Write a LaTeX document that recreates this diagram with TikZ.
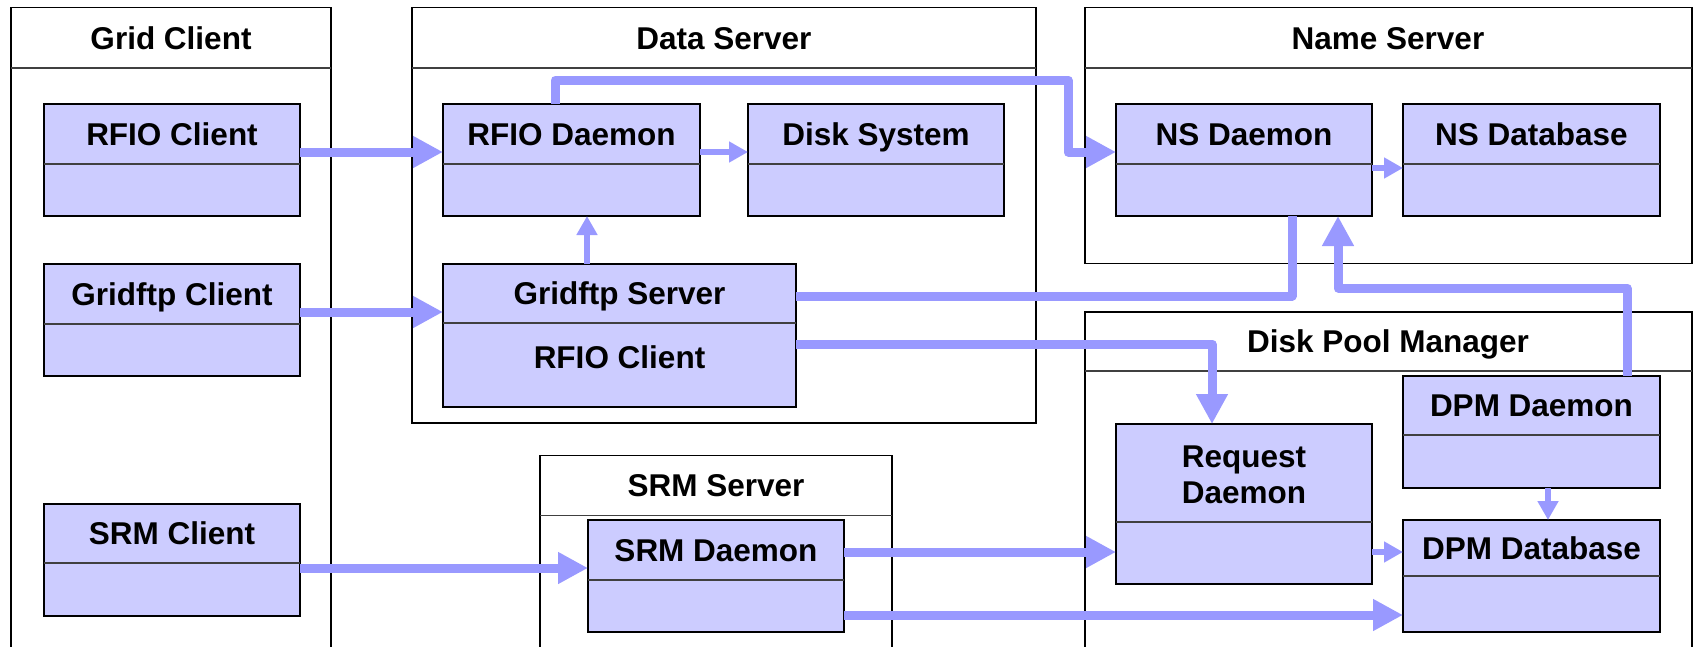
\documentclass[tikz,border=0pt]{standalone}
\usepackage{fontspec}
\setmainfont{Liberation Sans}
\usetikzlibrary{arrows.meta}

\definecolor{boxfill}{RGB}{204,204,255}
\definecolor{flowc}{RGB}{153,153,255}

\begin{document}
\begin{tikzpicture}[x=1pt, y=-1pt,
    group/.style={draw=black, line width=1.6pt},
    sepline/.style={draw=black!75, line width=1.5pt},
    comp/.style={draw=black, line width=2pt, fill=boxfill, anchor=north west, inner sep=0pt, outer sep=0pt},
    boxtext/.style={font=\fontsize{31.5}{36}\selectfont\bfseries, inner sep=0pt},
    boxlabel/.style={boxtext, text height=22.6pt, text depth=0pt},
    flow/.style={draw=flowc, line width=9pt, line join=round, -{Triangle[length=30pt, width=30pt]}},
    flowsmall/.style={draw=flowc, line width=6pt, -{Triangle[length=19pt, width=20pt]}},
    link/.style={draw=flowc, line width=9pt, line join=round}]
    \clip (0,0) rectangle (1701,646);

    % Gruppen: Grid Client, Data Server, Name Server, Disk Pool Manager, SRM Server
    \draw[group] (11,7.5) rectangle (331,680);
    \draw[sepline] (11,68) -- (331,68);
    \node[boxlabel] (gridclient) at (171,38) {Grid Client};

    \draw[group] (412,7.5) rectangle (1036,423);
    \draw[sepline] (412,68) -- (1036,68);
    \node[boxlabel] (dataserver) at (724,38) {Data Server};

    \draw[group] (1085,7.5) rectangle (1692,263.5);
    \draw[sepline] (1085,68) -- (1692,68);
    \node[boxlabel] (nameserver) at (1388,38) {Name Server};

    \draw[group] (1085,312) rectangle (1692,680);
    \draw[sepline] (1085,371) -- (1692,371);
    \node[boxlabel] (dpm) at (1388,341.5) {Disk Pool Manager};

    \draw[group] (540,455.5) rectangle (892,680);
    \draw[sepline] (540,515.5) -- (892,515.5);
    \node[boxlabel] (srmserver) at (716,485.5) {SRM Server};

    % Komponenten mit Trennlinie
    \foreach \name/\x/\y/\w/\h/\d/\txt in {
        rfiocl/44/104/256/112/60/RFIO Client,
        ftpcl/44/264/256/112/60/Gridftp Client,
        srmcl/44/504/256/112/59/SRM Client,
        rfiod/443/104/257/112/60/RFIO Daemon,
        disk/748/104/256/112/60/Disk System,
        nsd/1116/104/256/112/60/NS Daemon,
        nsdb/1403/104/257/112/60/NS Database,
        dpmd/1403/376/257/112/59/DPM Daemon,
        dpmdb/1403/520/257/112/56/DPM Database,
        srmd/588/520/256/112/60/SRM Daemon,
        ftpsrv/443/264/353/143/59/Gridftp Server}
    {
        \node[comp, minimum width=\w pt, minimum height=\h pt] (\name) at (\x,\y) {};
        \draw[sepline] (\x,\y+\d) -- ++(\w,0);
        \node[boxlabel] (\name-t) at (\x+\w/2,\y+\d/2) {\txt};
    }
    \node[boxlabel] (ftpsrv-rfio) at (619.5,357.5) {RFIO Client};

    \node[comp, minimum width=256pt, minimum height=160pt] (reqd) at (1116,424) {};
    \draw[sepline] (1116,522) -- ++(256,0);
    \node[boxtext, align=center] (reqd-t) at (1244,475) {Request\\Daemon};

    % dicke Pfeile
    \draw[flow] (rfiocl.east |- 0,152) -- (rfiod.west |- 0,152);
    \draw[flow] (ftpcl.east |- 0,312) -- (ftpsrv.west |- 0,312);
    \draw[flow] (srmcl.east |- 0,568) -- (srmd.west |- 0,568);
    \draw[flow] (srmd.east |- 0,552) -- (reqd.west |- 0,552);
    \draw[flow] (srmd.east |- 0,615) -- (dpmdb.west |- 0,615);
    \draw[flow] (rfiod.north -| 555,0) -- (555,80) -- (1068,80) -- (1068,152) -- (nsd.west |- 0,152);
    \draw[link] (ftpsrv.east |- 0,296) -- (1292,296) -- (nsd.south -| 1292,0);
    \draw[flow] (ftpsrv.east |- 0,344) -- (1212,344) -- (reqd.north -| 1212,0);
    \draw[flow] (dpmd.north -| 1627,0) -- (1627,288) -- (1338,288) -- (nsd.south -| 1338,0);

    % kleine Pfeile
    \draw[flowsmall] (rfiod.east |- 0,152) -- (disk.west |- 0,152);
    \draw[flowsmall] (ftpsrv.north -| 587,0) -- (rfiod.south -| 587,0);
    \draw[flowsmall] (nsd.east |- 0,168) -- (nsdb.west |- 0,168);
    \draw[flowsmall] (dpmd.south -| 1548,0) -- (dpmdb.north -| 1548,0);
    \draw[flowsmall] (reqd.east |- 0,552) -- (dpmdb.west |- 0,552);
\end{tikzpicture}
\end{document}
